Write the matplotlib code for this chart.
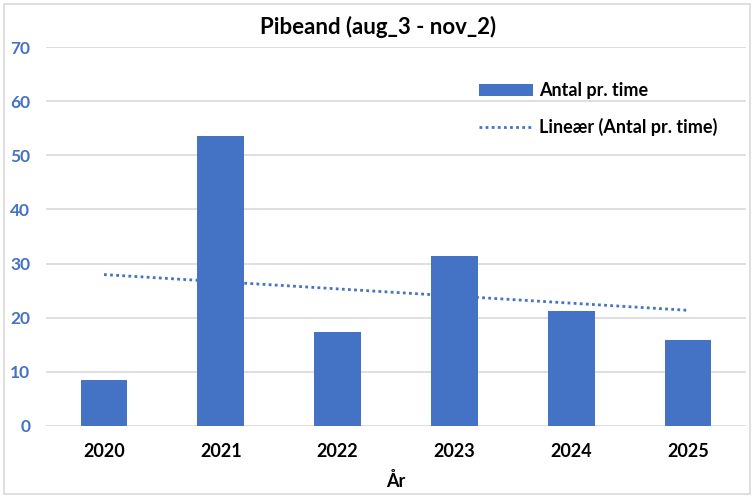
import matplotlib
matplotlib.use("Agg")
import matplotlib.pyplot as plt
import numpy as np
from matplotlib.patches import Rectangle

years = ["2020", "2021", "2022", "2023", "2024", "2025"]
values = [8.5, 53.6, 17.4, 31.4, 21.2, 15.9]
yticks = [0, 10, 20, 30, 40, 50, 60, 70]

blue = "#4472C4"
plt.rcParams['font.family'] = ['Lato', 'DejaVu Sans']

fig = plt.figure(figsize=(7.56, 5.04), dpi=100)
W, H = 756, 504
ax = fig.add_axes([45.6 / W, 1 - 426 / H, (746.4 - 45.6) / W, (426 - 47) / H])

x = np.arange(len(years))
bars = ax.bar(x, values, width=0.4, color=blue, label="Antal pr. time", zorder=3)
coef = np.polyfit(x, values, 1)
line, = ax.plot(x, np.polyval(coef, x), linestyle=(0, (1, 1.2)), color=blue, lw=2,
                label="Lineær (Antal pr. time)", zorder=4)

ax.set_xlim(-0.5, len(years) - 0.5)
ax.set_ylim(0, 70)
ax.set_yticks(yticks)
ax.set_yticklabels([str(t) for t in yticks], color=blue, fontsize=12.5, fontweight='bold')
ax.set_xticks(x)
ax.set_xticklabels(years, fontsize=13, fontweight='bold')
ax.tick_params(axis='both', length=0)
ax.tick_params(axis='x', pad=12)
ax.tick_params(axis='y', pad=11)
ax.grid(axis='y', color='#d9d9d9', lw=1.2, zorder=0)
for s in ax.spines.values():
    s.set_visible(False)
ax.set_xlabel("År", fontsize=13, fontweight='bold', labelpad=9)

fig.text(0.5, 1 - 27 / H, "Pibeand (aug_3 - nov_2)", ha='center', va='center',
         fontsize=16, fontweight='bold')

leg = ax.legend([bars, line], ["Antal pr. time", "Lineær (Antal pr. time)"],
                loc='upper left', bbox_to_anchor=((463 - 45.6) / (746.4 - 45.6), (426 - 66) / (426 - 47)),
                frameon=False, prop={'weight': 'bold', 'size': 13},
                handlelength=3.0, labelspacing=1.05, handletextpad=0.3)

fig.patches.append(Rectangle((4 / W, 1 - 494 / H), 746 / W, 490 / H, transform=fig.transFigure,
                             fill=False, edgecolor='#d9d9d9', lw=1.2))

fig.savefig("out.png", dpi=100)
